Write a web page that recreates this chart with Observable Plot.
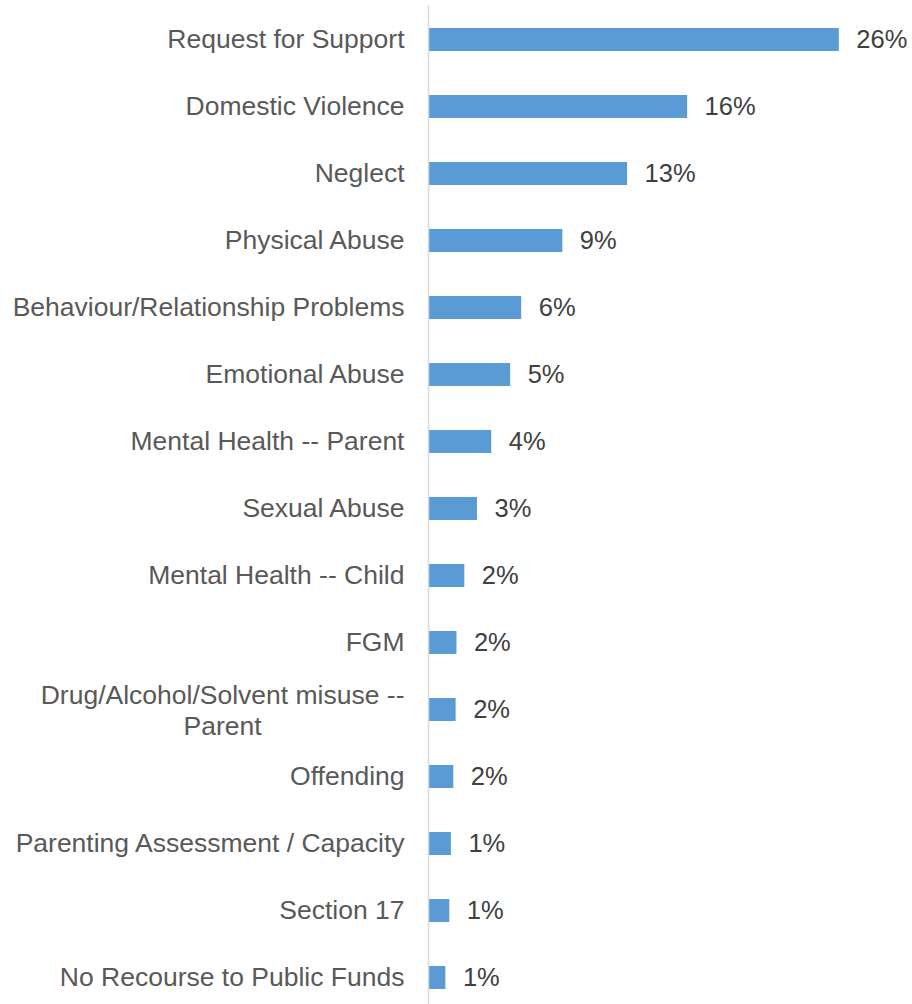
<!DOCTYPE html>
<html><head><meta charset="utf-8">
<script src="https://cdn.jsdelivr.net/npm/d3@7"></script>
<script src="https://cdn.jsdelivr.net/npm/@observablehq/plot@0.6"></script>
<style>body{margin:0;background:#fff}</style>
</head><body><div id="chart"></div>
<script>
const categories = [
  "Request for Support",
  "Domestic Violence",
  "Neglect",
  "Physical Abuse",
  "Behaviour/Relationship Problems",
  "Emotional Abuse",
  "Mental Health -- Parent",
  "Sexual Abuse",
  "Mental Health -- Child",
  "FGM",
  "Drug/Alcohol/Solvent misuse --\nParent",
  "Offending",
  "Parenting Assessment / Capacity",
  "Section 17",
  "No Recourse to Public Funds"
];
const values = [26.0, 16.4, 12.6, 8.5, 5.9, 5.2, 4.0, 3.1, 2.3, 1.8, 1.75, 1.6, 1.45, 1.35, 1.1];
const valueLabels = ["26%","16%","13%","9%","6%","5%","4%","3%","2%","2%","2%","2%","1%","1%","1%"];

const data = categories.map((c, i) => ({category: c, value: values[i], label: valueLabels[i]}));
const font = '"Liberation Sans", Arial, sans-serif';
const fsValue = 25.5;
const fsCat = 26.5;
const ctx = document.createElement("canvas").getContext("2d");
ctx.font = `${fsCat}px ${font}`;
const labelGap = 24;
const single = data.filter(d => !d.category.includes("\n"));
const multi = data.filter(d => d.category.includes("\n"));
const multiWidth = d => Math.max(...d.category.split("\n").map(s => ctx.measureText(s).width));

const chart = Plot.plot({
  width: 912, height: 1004,
  marginLeft: 428, marginRight: 10, marginTop: 5, marginBottom: 0,
  style: {fontFamily: font, fontSize: fsValue + "px", background: "#fff"},
  x: {domain: [0, 30], range: [428, 902], axis: null},
  y: {domain: categories, range: [5.48, 1011.1], paddingInner: 0.65, paddingOuter: 0.325, axis: null},
  marks: [
    Plot.barX(data, {x: "value", y: "category", fill: "#5B9BD5"}),
    Plot.ruleX([0], {stroke: "#d9d9d9", strokeWidth: 1.5}),
    Plot.text(data, {x: "value", y: "category", text: "label", dx: 17, textAnchor: "start", fill: "#404040", fontSize: fsValue}),
    Plot.text(single, {x: 0, y: "category", text: "category", dx: -labelGap, textAnchor: "end", fill: "#595959", fontSize: fsCat}),
    ...multi.map(d => Plot.text([d], {x: 0, y: "category", text: "category", dx: -(labelGap + multiWidth(d) / 2), textAnchor: "middle", lineHeight: 1.17, fill: "#595959", fontSize: fsCat}))
  ]
});
document.getElementById("chart").append(chart);
</script>
</body></html>
